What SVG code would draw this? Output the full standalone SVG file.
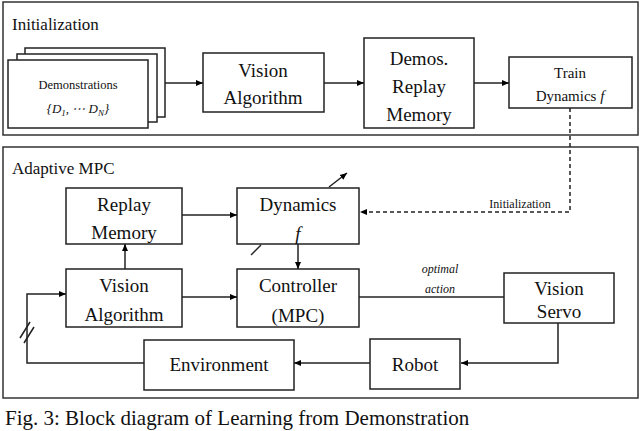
<svg xmlns="http://www.w3.org/2000/svg" width="640" height="431" viewBox="0 0 640 431">
<defs><marker id="a" markerWidth="8" markerHeight="8" refX="7" refY="4" orient="auto" markerUnits="userSpaceOnUse"><path d="M0,1 L7,4 L0,7 z" fill="#000"/></marker></defs>
<style>
rect{fill:#fff;stroke:#222;stroke-width:1.5}
.p{fill:none;stroke:#333;stroke-width:1.5}
text{fill:#111;text-anchor:middle;font-family:"Liberation Serif","Times New Roman","DejaVu Serif",serif}
.b{font-size:19px}.s{font-size:12px}.t{text-anchor:start;font-size:17px}
.c{fill:none;stroke:#222;stroke-width:1.5}
</style>
<rect width="640" height="431" style="fill:#fff;stroke:none"/>
<rect class="p" x="3" y="2" width="635" height="133"/>
<rect class="p" x="3" y="147" width="635" height="251"/>
<text class="t" x="12" y="30">Initialization</text>
<text class="t" x="12" y="174">Adaptive MPC</text>
<g id="demos"><rect x="25" y="48" width="140" height="69"/><rect x="17" y="54" width="140" height="68"/><rect x="8" y="60" width="140" height="68"/>
<text x="78" y="89" style="font-size:12.5px">Demonstrations</text><text x="78" y="113" style="font-size:13px;font-style:italic">{D<tspan style="font-size:9px" dy="3">1</tspan><tspan dy="-3">, ⋯ D</tspan><tspan style="font-size:9px" dy="3">N</tspan><tspan dy="-3">}</tspan></text></g>
<g id="va1"><rect x="203" y="53" width="121" height="59"/><text class="b" x="263" y="77">Vision</text><text class="b" x="263" y="104">Algorithm</text></g>
<g id="drm"><rect x="364" y="38" width="110" height="90"/><text class="b" x="419" y="65">Demos.</text><text class="b" x="419" y="93">Replay</text><text class="b" x="419" y="121">Memory</text></g>
<g id="train"><rect x="509" y="57" width="123" height="51"/><text x="570" y="78" style="font-size:15px">Train</text><text x="570" y="101" style="font-size:15px">Dynamics <tspan font-style="italic">f</tspan></text></g>
<g id="rm"><rect x="66" y="188" width="116" height="56"/><text class="b" x="124" y="211">Replay</text><text class="b" x="124" y="239">Memory</text></g>
<g id="dyn"><rect x="237" y="188" width="122" height="56"/><text class="b" x="298" y="211">Dynamics</text><text class="b" x="298" y="240" font-style="italic">f</text></g>
<g id="va2"><rect x="66" y="269" width="116" height="58"/><text class="b" x="124" y="292">Vision</text><text class="b" x="124" y="321">Algorithm</text></g>
<g id="ctrl"><rect x="237" y="269" width="122" height="58"/><text class="b" x="298" y="292">Controller</text><text class="b" x="298" y="322">(MPC)</text></g>
<g id="vs"><rect x="504" y="273" width="110" height="50"/><text class="b" x="559" y="295">Vision</text><text class="b" x="559" y="318">Servo</text></g>
<g id="robot"><rect x="370" y="339" width="90" height="50"/><text class="b" x="415" y="371">Robot</text></g>
<g id="env"><rect x="144" y="340" width="150" height="50"/><text class="b" x="219" y="371">Environment</text></g>
<g id="connectors">
<path class="c" d="M165,83H203" marker-end="url(#a)"/>
<path class="c" d="M324,83H364" marker-end="url(#a)"/>
<path class="c" d="M474,83H509" marker-end="url(#a)"/>
<path class="c" d="M570,108V212H360" stroke-dasharray="4,3" marker-end="url(#a)"/>
<text class="s" x="520" y="208">Initialization</text>
<path class="c" d="M182,215H237" marker-end="url(#a)"/>
<path class="c" d="M298,244V269" marker-end="url(#a)"/>
<path class="c" d="M125,269V244" marker-end="url(#a)"/>
<path class="c" d="M182,297H237" marker-end="url(#a)"/>
<path class="c" d="M359,297H504"/>
<text x="440" y="273" style="font-size:12px;font-style:italic">optimal</text>
<text x="440" y="293" style="font-size:12px;font-style:italic">action</text>
<path class="c" d="M558,323V363H461" marker-end="url(#a)"/>
<path class="c" d="M370,363H294" marker-end="url(#a)"/>
<path class="c" d="M144,363H27V294H66" marker-end="url(#a)"/>
<path class="c" d="M20,338L30,322M24,343L34,327"/>
<path class="c" d="M251,255L261,245"/>
<path class="c" d="M329,187L347,173" marker-end="url(#a)"/>
</g>
<text x="5" y="425" style="font-size:21px;text-anchor:start">Fig. 3: Block diagram of Learning from Demonstration</text>
</svg>
